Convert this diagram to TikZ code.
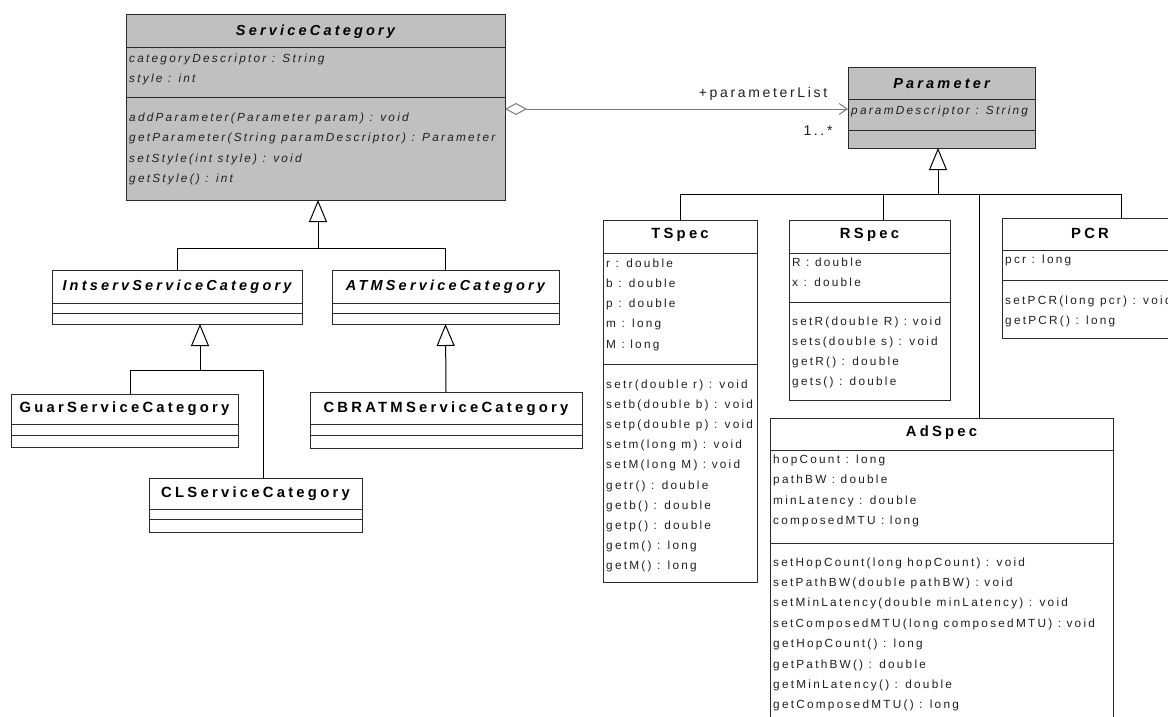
\documentclass[tikz,border=0pt]{standalone}
\usepackage{fontspec}
\setmainfont{Liberation Sans}
\newfontfamily\bodyfont[LetterSpace=19]{Liberation Sans}
\newfontfamily\headfont[LetterSpace=22]{Liberation Sans}
\usetikzlibrary{arrows.meta}

\definecolor{boxgray}{HTML}{C0C0C0}
\definecolor{edge}{HTML}{2A2A2A}
\definecolor{ink}{HTML}{202020}
\definecolor{assoc}{HTML}{7A7A7A}

\tikzset{
  clsbox/.style={draw=edge, line width=1pt, inner sep=0pt, outer sep=0pt, anchor=north west},
  head/.style={font=\headfont\fontsize{14.8}{17}\selectfont\bfseries, text=black, inner sep=0pt},
  headit/.style={font=\headfont\fontsize{14.5}{17}\selectfont\bfseries\itshape, text=black, inner sep=0pt},
  mem/.style={font=\bodyfont\fontsize{11.8}{14}\selectfont, text=ink, anchor=west, inner sep=0pt},
  memit/.style={font=\bodyfont\fontsize{11.8}{14}\selectfont\itshape, text=ink, anchor=west, inner sep=0pt},
  lbl/.style={font=\bodyfont\fontsize{14}{16}\selectfont, text=ink, inner sep=0pt},
  sep/.style={draw=edge, line width=1pt},
  gen/.style={draw=black, line width=1pt, -{Triangle[length=22pt, width=18pt, fill=white]}},
  branch/.style={draw=black, line width=1pt},
  aggr/.style={draw=assoc, line width=1pt,
    {Diamond[length=22pt, width=12pt, fill=white]}-{Straight Barb[length=8pt, width=11pt]}},
}

% class frame: name, left, top, right, bottom, fill
\newcommand\umlbox[6]{%
  \node[clsbox, fill=#6, minimum width={(#4)-(#2)}, minimum height={(#5)-(#3)}] (#1) at (#2,#3) {};}
% compartment divider: class name, distance below the top edge
\newcommand\divider[2]{%
  \draw[sep] ([yshift=-#2pt]#1.north west) -- ([yshift=-#2pt]#1.north east);}
% member rows: class, style, row tag, first offset, row step, entries
\newcommand\members[6]{%
  \foreach \txt [count=\i] in {#6}
    \node[#2] (#1-#3\i) at ([xshift=3pt, yshift={-(#4+(\i-1)*#5)*1pt}]#1.north west) {\txt};}
% class name: class, style, offset of its centre below the top edge, text
\newcommand\classname[4]{%
  \node[#2] (#1-title) at ([yshift=-#3pt]#1.north) {#4};}

\begin{document}
\begin{tikzpicture}[x=1pt, y=-1pt]
\useasboundingbox (0,0) rectangle (1168,717);
\fill[white] (0,0) rectangle (1168,717);
\clip (0,0) rectangle (1168,717);

% ---------- ServiceCategory hierarchy ----------
\umlbox{sc}{126}{15}{505}{200}{boxgray}
\classname{sc}{headit}{17}{ServiceCategory}
\divider{sc}{33}
\divider{sc}{83}
\members{sc}{memit}{a}{44}{20}{categoryDescriptor : String, style : int}
\members{sc}{memit}{o}{103}{20.5}{addParameter(Parameter param) : void,
  getParameter(String paramDescriptor) : Parameter, setStyle(int style) : void, getStyle() : int}

\umlbox{intserv}{52}{270}{302}{324}{white}
\classname{intserv}{headit}{17}{IntservServiceCategory}
\divider{intserv}{33}
\divider{intserv}{43}

\umlbox{atm}{332}{270}{559}{324}{white}
\classname{atm}{headit}{17}{ATMServiceCategory}
\divider{atm}{33}
\divider{atm}{43}

\umlbox{guar}{11}{394}{238}{447}{white}
\classname{guar}{head}{15}{GuarServiceCategory}
\divider{guar}{30}
\divider{guar}{41}

\umlbox{cbr}{310}{392}{582}{448}{white}
\classname{cbr}{head}{17}{CBRATMServiceCategory}
\divider{cbr}{32}
\divider{cbr}{43}

\umlbox{cl}{149}{478}{362}{532}{white}
\classname{cl}{head}{16}{CLServiceCategory}
\divider{cl}{31}
\divider{cl}{41}

\coordinate (j1) at (318,248);
\draw[branch] (intserv.north) |- (j1);
\draw[branch] (atm.north) |- (j1);
\draw[gen] (j1) -- (sc.south -| j1);

\coordinate (j2) at (200,370);
\draw[branch] (guar.north -| 130,0) |- (j2);
\draw[branch] (cl.north -| 263,0) |- (j2);
\draw[gen] (j2) -- (intserv.south -| j2);

\draw[gen] (cbr.north) -- (atm.south);

% ---------- Parameter hierarchy ----------
\umlbox{param}{848}{68}{1035}{148}{boxgray}
\classname{param}{headit}{16}{Parameter}
\divider{param}{32}
\divider{param}{62}
\members{param}{memit}{a}{43}{20}{paramDescriptor : String}

\umlbox{tspec}{603}{220}{757}{582}{white}
\classname{tspec}{head}{15}{TSpec}
\divider{tspec}{33}
\divider{tspec}{144}
\members{tspec}{mem}{a}{43}{20.5}{r : double, b : double, p : double, m : long, M : long}
\members{tspec}{mem}{o}{165}{20.2}{setr(double r) : void, setb(double b) : void,
  setp(double p) : void, setm(long m) : void, setM(long M) : void, getr() : double,
  getb() : double, getp() : double, getm() : long, getM() : long}

\umlbox{rspec}{789}{220}{950}{400}{white}
\classname{rspec}{head}{15}{RSpec}
\divider{rspec}{33}
\divider{rspec}{82}
\members{rspec}{mem}{a}{42}{20}{R : double, x : double}
\members{rspec}{mem}{o}{102}{20.3}{setR(double R) : void, sets(double s) : void,
  getR() : double, gets() : double}

\umlbox{pcr}{1002}{218}{1178}{338}{white}
\classname{pcr}{head}{15}{PCR}
\divider{pcr}{32}
\divider{pcr}{62}
\members{pcr}{mem}{a}{42}{20}{pcr : long}
\members{pcr}{mem}{o}{83}{20}{setPCR(long pcr) : void, getPCR() : long}

\umlbox{adspec}{770}{418}{1113}{735}{white}
\classname{adspec}{head}{15}{AdSpec}
\divider{adspec}{32}
\divider{adspec}{125}
\members{adspec}{mem}{a}{42}{20.5}{hopCount : long, pathBW : double, minLatency : double,
  composedMTU : long}
\members{adspec}{mem}{o}{145}{20.4}{setHopCount(long hopCount) : void,
  setPathBW(double pathBW) : void, setMinLatency(double minLatency) : void,
  setComposedMTU(long composedMTU) : void, getHopCount() : long, getPathBW() : double,
  getMinLatency() : double, getComposedMTU() : long}

\coordinate (j3) at (938,194);
\draw[branch] (tspec.north) |- (j3);
\draw[branch] (rspec.north -| 883,0) |- (j3);
\draw[branch] (adspec.north -| 979,0) |- (j3);
\draw[branch] (pcr.north -| 1121,0) |- (j3);
\draw[gen] (j3) -- (param.south -| j3);

% ---------- aggregation ----------
\coordinate (ag-s) at (sc.east |- 0,109);
\coordinate (ag-e) at (param.west |- 0,109);
\draw[aggr] (ag-s) -- (ag-e);
\node[lbl] (role) at (763,94) {+parameterList};
\node[lbl] (mult) at (818,131) {1..*};
\end{tikzpicture}
\end{document}
